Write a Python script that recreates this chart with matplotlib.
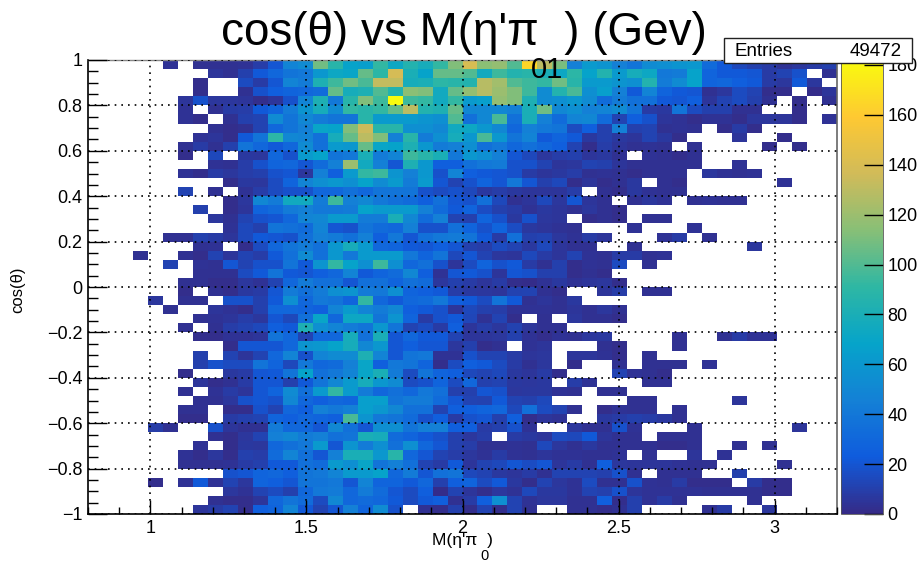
import numpy as np
import matplotlib
matplotlib.use("Agg")
import matplotlib.pyplot as plt
from matplotlib.colors import LinearSegmentedColormap, Normalize
from matplotlib.patches import Rectangle
from matplotlib.ticker import MultipleLocator, FuncFormatter

plt.rcParams['font.family'] = ['Liberation Sans', 'DejaVu Sans']

W, H = 922, 561
x_edges = np.linspace(0.8, 3.2, 51)
y_edges = np.linspace(1.0, -1.0, 51)   # first row is the top of the plot
ENTRIES = "49472"
Z_MAX = 182

# counts, top row first. left_rows hold columns up to 24 (zeros omitted in front),
# right_rows hold columns from 25 on (zeros omitted at the end)
left_rows = [
[4,0,3,3,3,4,9,20,48,52,108,88,68,65,92,72,85,78,92,112],
[5,3,10,22,30,38,40,60,72,70,105,90,138,80,68,105,105],
[2,0,0,15,8,20,48,42,82,95,108,98,132,132,78,80,90,88],
[2,0,0,3,18,25,28,30,32,105,78,82,100,85,115,112,75,105],
[5,18,6,6,5,2,5,18,48,82,40,88,112,95,182,95,92,75,92],
[4,0,3,8,9,22,28,42,58,78,52,92,88,92,105,130,85,82,105],
[4,2,0,3,10,12,52,38,50,42,38,38,88,62,62,62,58,55,100],
[3,2,3,12,30,38,45,70,68,112,135,88,88,55,55,50,75],
[4,5,2,22,38,90,50,48,35,78,105,130,112,45,88,42,55,78],
[3,8,3,10,38,30,22,30,52,35,62,60,105,70,68,82,60,42,45],
[2,0,14,0,7,6,30,18,62,68,38,40,80,42,48,95,88,80,40],
[4,3,9,18,28,30,20,32,45,120,75,45,20,82,60,25,25],
[4,2,8,6,9,10,18,20,6,45,25,62,92,95,58,45,60,18,48],
[2,7,6,15,28,48,55,60,55,68,52,62,42,62,20,12],
[12,0,3,0,4,9,15,18,18,30,30,35,30,38,38,38,18,15,18],
[2,6,50,42,75,75,42,95,45,50,40,35,32,25,35,20],
[10,0,2,5,28,32,42,45,40,40,42,68,62,62,62,45,32,22],
[6,3,12,18,20,30,48,50,62,62,42,42,80,50,32,45,12],
[4,14,10,38,35,32,48,20,18,38,32,30,45,18,18,35],
[3,3,10,8,5,14,22,20,18,35,45,42,35,45,25,40,20,35,40,42],
[3,4,0,2,15,30,38,42,35,60,78,62,30,28,22,20,25,20],
[3,0,0,3,2,12,5,12,9,22,35,52,35,60,40,62,62,62,40,28,38,14],
[12,0,4,3,20,12,18,18,38,22,58,92,68,55,95,55,30,35,18,5],
[3,3,3,15,22,38,22,20,25,30,48,22,28,32,50,25,4,20],
[3,3,2,2,6,4,12,30,42,35,35,20,35,35,28,35,32,6,10],
[2,0,3,2,7,8,20,42,35,42,55,58,42,40,55,28,25,22,9],
[6,0,3,3,0,18,18,10,22,55,30,40,38,28,92,30,22,30,32,40,25],
[3,0,0,5,4,2,10,30,30,28,25,48,62,48,42,50,25,22,18,5],
[3,4,5,9,6,20,14,35,70,30,72,72,38,58,28,8,18,22],
[3,0,3,9,11,14,25,22,82,55,48,42,38,60,38,12,15,8,25],
[2,2,4,4,5,38,30,12,30,30,78,35,80,20,30,22,22,12],
[2,20,20,20,30,58,60,68,78,50,60,20,25,20,20,6],
[10,0,12,5,12,30,48,18,48,52,52,82,48,20,38,40,4,4],
[10,18,15,15,38,28,14,40,30,32,45,70,25,40,38,28,2,15],
[2,0,0,7,8,20,22,38,68,35,40,48,70,80,42,15,38,28,25],
[5,2,3,8,20,20,10,22,38,50,62,78,60,52,15,18,28,15],
[3,0,4,8,5,20,28,52,35,62,92,62,42,30,35,30,40,35,10],
[3,3,6,18,20,18,50,30,25,30,28,65,65,38,42,42,32,20],
[3,3,0,2,2,18,12,30,25,45,40,45,65,60,50,35,35,12,25],
[2,2,0,8,10,12,28,25,30,28,25,98,58,40,38,32,18,25,8],
[9,3,0,0,18,5,3,3,42,30,30,20,50,35,20,55,55,38,45,45,25],
[3,2,6,12,45,50,42,45,35,38,80,78,32,28,22,18,10],
[4,0,2,7,6,30,35,40,62,20,58,42,55,35,55,30,20,10],
[4,2,6,2,10,9,32,48,35,20,45,80,80,60,88,30,20,12,9],
[3,3,3,4,8,10,22,22,35,32,62,55,70,38,45,35,12,8,22],
[18,20,28,30,25,38,40,48,62,62,68,30,42,20,35,38],
[2,0,4,22,4,12,6,28,25,20,38,38,40,20,48,28,28,22,30,10,25],
[6,4,12,15,10,30,40,42,30,42,32,20,15,25,1,12],
[3,2,2,5,30,38,32,15,50,30,32,30,22,15,22,25,3],
[5,8,12,2,25,28,48,22,12,20,45,28,52,18,0,3,2,10],
]
right_rows = [
[140,115,118,100,165,130,110,45,62,58,45,38,52,55,58,60,32,22,14,10,8,4,6,8,10],
[100,75,95,85,88,80,72,90,68,85,62,78,72,40,42,68,28,22,22,20,8,12,18,0,3],
[85,128,122,100,95,92,108,88,62,62,58,55,85,42,52,68,28,30,25,22,8,6,22,6],
[118,128,120,112,95,52,85,98,55,65,45,22,48,28,22,20,3,6,15,12,2,2,0,1,5],
[62,65,118,112,82,52,55,60,52,32,42,35,35,22,20,25,5,12,15,10,3,0,2,0,3],
[50,50,50,45,80,108,50,55,45,48,52,38,8,7,38,15,10,10,3,3,0,0,2],
[35,50,98,35,80,45,32,48,50,32,12,25,18,5,4,2,4,4,2,6,6,5,2,0,4],
[72,60,50,30,45,40,38,15,25,10,45,10,12,3,4,3,0,2,8,2],
[60,98,60,38,48,22,28,22,7,10,7,5,12,7,2,0,0,0,5,0,0,2],
[55,35,40,30,35,30,25,12,2,9,5,3,4,3,0,3,0,0,0,0,2,0,2],
[60,55,45,20,14,6,9,10,5,7,3,0,4,3,2,3],
[35,40,42,18,18,12,5,6,12,10,5,3,3,3,3,3,0,0,4],
[25,22,20,18,8,5,7,9,3,4,3,2,3,3,3,0,6,4,3,4],
[18,28,20,40,20,10,14,2,5,2,3,7,0,3,2,0,0,0,0,0,0,4],
[14,7,9,7,5,5,5,9,0,3,2,7,4,3,3],
[18,35,14,3,5,14,6,20,5,3,0,3,6,4,0,3,4,3,3],
[28,16,10,8,4,7,5,3,6,3,2],
[10,28,18,7,18,6,5,0,2,3,2,0,3,3],
[28,18,28,16,7,5,4,3,0,0,0,4,0,0,0,4],
[38,22,8,35,10,12,6,4,8,5,0,0,0,4,8,0,3],
[10,9,15,12,7,14,5,3,3,0,0,3,0,0,0,0,0,0,0,6],
[20,12,6,5,14,8,5,12,4,3,8,8,3,4],
[15,28,18,22,8,3,10,2,4,3,15,0,3],
[22,18,5,20,18,10,10,2,3,2],
[8,5,8,2,1,4,7,4,5,6,2],
[7,6,5,11,12,3,2,0,0,5,9,0,3,3],
[22,15,38,22,3,5,3,7],
[14,10,9,4,4,4,3,5,3,6,3],
[13,4,12,2,0,3,0,6,3,3,2],
[5,9,6,11,5,3,3],
[5,5,6,10,4,2,4,3,6,7,0,0,0,0,3,0,0,3,8,4,4],
[10,2,3,0,4,5,0,0,0,3,2,0,0,0,3],
[18,12,12,8,5,6,0,5,5,4,2,0,3],
[25,22,15,8,3,6,0,2,0,0,3,0,3,3,3,0,4],
[14,12,14,7,5,8,2,0,0,0,12,4,3,2],
[30,10,12,7,6,7,0,9,4,0,0,0,3,3],
[10,20,18,6,7,7,4,3,0,3,3],
[12,11,22,12,10,14,0,0,0,0,0,3,3,0,0,0,0,0,5],
[25,28,30,14,35,15,12,3,0,2,4,3,3,0,3],
[18,20,10,25,2,5,4,0,0,7,8,10,9,7,3],
[25,8,10,18,4,0,0,6,3,3,18,4,0,0,0,3,0,0,0,0,0,0,5],
[6,9,0,8,7,5,15,14,22,5,3,3,0,3,3,3],
[9,3,3,4,3,14,6,3,7,3,3,3,3,2,2,3,0,0,3,0,3],
[6,4,8,4,3,5,4,4,3,3,4,0,3,0,0,5,0,4],
[5,12,14,20,16,20,5,8,3,25,6,5,5,5,4,3,3,0,0,0,0,3],
[14,12,7,5,8,3,12,12,12,10,18,3,0,3,3,3,0,0,10],
[28,15,22,7,2,12,6,4,15,3,3,18,4,3,8,2,2,2,0,8,2,2],
[5,2,6,4,14,7,7,4,12,10,18,5,4,4,4,4,3,3,3,3,2,2],
[8,25,55,12,4,6,6,3,3,25,2,10,4,8,3,0,0,0,0,3],
[2,12,2,12,3,0,0,3,3,2,3,10,0,0,0,0,3,8,0,0,6],
]

x_major = [1.0, 1.5, 2.0, 2.5, 3.0]
y_major = [-1.0, -0.8, -0.6, -0.4, -0.2, 0.0, 0.2, 0.4, 0.6, 0.8, 1.0]
z_ticks = [0, 20, 40, 60, 80, 100, 120, 140, 160, 180]

counts = np.array([[0]*(25-len(a)) + a + b + [0]*(25-len(b))
                   for a, b in zip(left_rows, right_rows)], dtype=float)

bird = LinearSegmentedColormap.from_list("bird", [
    (0.2082, 0.1664, 0.5293), (0.0592, 0.3599, 0.8684), (0.0780, 0.5041, 0.8385),
    (0.0232, 0.6419, 0.7914), (0.1802, 0.7178, 0.6425), (0.5301, 0.7492, 0.4662),
    (0.8186, 0.7328, 0.3499), (0.9956, 0.7862, 0.1968), (0.9764, 0.9832, 0.0539)], N=256)
bird.set_bad("white")

def rect(l, t, r, b):
    return [l/W, 1-b/H, (r-l)/W, (b-t)/H]

fig = plt.figure(figsize=(W/100, H/100), dpi=100, facecolor="white")
ax = fig.add_axes(rect(88, 60, 837, 514))
mesh = ax.pcolormesh(x_edges, y_edges, np.ma.masked_equal(counts, 0), cmap=bird,
                     norm=Normalize(0, Z_MAX), linewidth=0, rasterized=True)
ax.set_xlim(0.8, 3.2)
ax.set_ylim(-1, 1)

ax.xaxis.set_major_locator(plt.FixedLocator(x_major))
ax.xaxis.set_minor_locator(MultipleLocator(0.1))
ax.yaxis.set_major_locator(plt.FixedLocator(y_major))
ax.yaxis.set_minor_locator(MultipleLocator(0.05))
fmt = FuncFormatter(lambda v, p: ("%g" % (round(v, 2))).replace("-", "\u2212"))
ax.xaxis.set_major_formatter(fmt)
ax.yaxis.set_major_formatter(fmt)
ax.tick_params(axis="x", which="major", direction="in", length=10, width=1, labelsize=13, pad=4, top=False)
ax.tick_params(axis="x", which="minor", direction="in", length=5, width=1, top=False)
ax.tick_params(axis="y", which="major", direction="in", length=14, width=1, labelsize=13, pad=4, right=False)
ax.tick_params(axis="y", which="minor", direction="in", length=7, width=1, right=False)
ax.grid(True, which="major", color="black", linestyle=(0, (1, 3)), linewidth=1.2)
ax.set_axisbelow(False)
for s, c, lw in (("left", "black", 1.2), ("bottom", "black", 1.2), ("top", "#888888", 1), ("right", "#666666", 1.2)):
    ax.spines[s].set_color(c)
    ax.spines[s].set_linewidth(lw)

cax = fig.add_axes(rect(841, 60, 883, 514))
cb = fig.colorbar(mesh, cax=cax)
cb.set_ticks(z_ticks)
cb.outline.set_linewidth(0.6)
cb.outline.set_edgecolor("#555555")
cax.tick_params(axis="y", which="major", direction="in", length=14, width=1, labelsize=13, pad=3, right=True, left=False)
cax.yaxis.set_ticks_position("right")

fig.text(464/W, 1-33/H, "cos(\u03b8) vs M(\u03b7'\u03c0  ) (Gev)", fontsize=33, ha="center", va="center")
fig.text(547/W, 1-70/H, "01", fontsize=21, ha="center", va="center")
fig.text(462/W, 1-541/H, "M(\u03b7'\u03c0  )", fontsize=12.5, ha="center", va="center")
fig.text(484/W, 1-555.5/H, "0", fontsize=10.5, ha="center", va="center")
fig.text(18/W, 1-290/H, "cos(\u03b8)", fontsize=12, rotation=90, ha="center", va="center")

fig.add_artist(Rectangle((724/W, 1-63/H), 188/W, 25/H, transform=fig.transFigure,
                         facecolor="white", edgecolor="#222222", linewidth=1, zorder=10))
fig.text(734/W, 1-51/H, "Entries", fontsize=13.5, ha="left", va="center", zorder=11)
fig.text(902/W, 1-51/H, ENTRIES, fontsize=13.5, ha="right", va="center", zorder=11)

fig.savefig("out.png", dpi=100)
